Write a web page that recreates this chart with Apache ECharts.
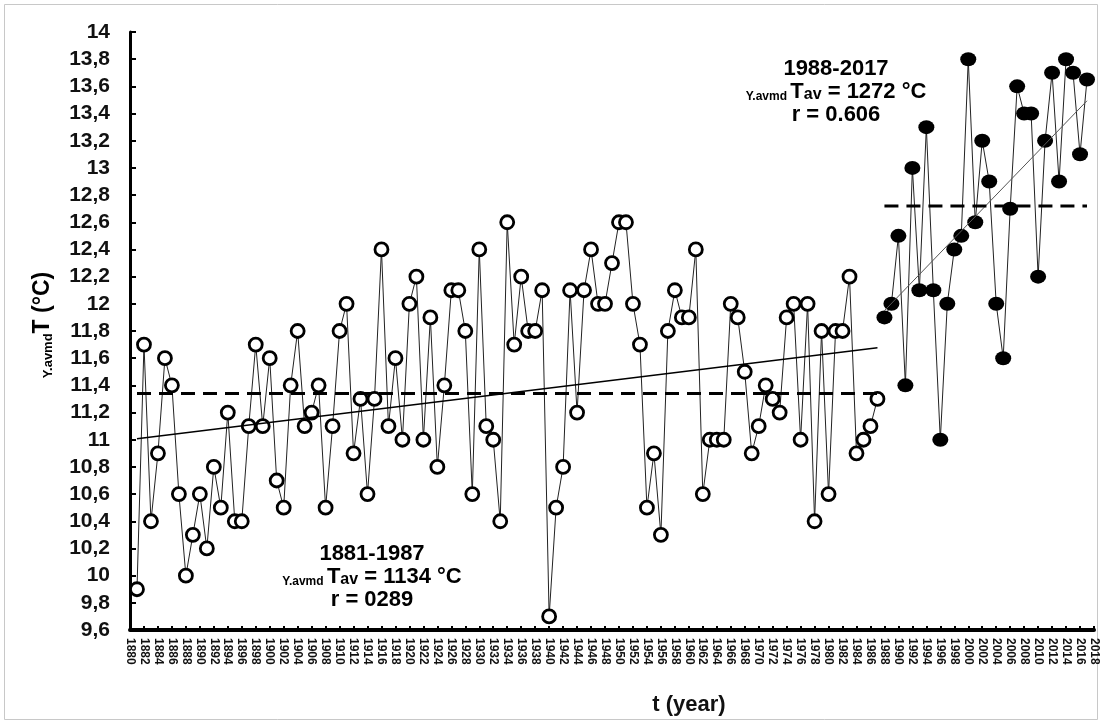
<!DOCTYPE html>
<html>
<head>
<meta charset="utf-8">
<script src="https://cdn.jsdelivr.net/npm/echarts/dist/echarts.min.js"></script>
<style>
  html, body { margin: 0; padding: 0; background: #fff; }
  #chart { width: 1102px; height: 724px; }
</style>
</head>
<body>
<div id="chart"></div>
<script>
// Mean annual air temperature, two periods
const startEarly = 1881;   // first year of the early period
const startLate = 1988;    // first year of the late period

const tempEarly = [
  9.9, 11.7, 10.4, 10.9, 11.6, 11.4, 10.6, 10.0, 10.3, 10.6,
  10.2, 10.8, 10.5, 11.2, 10.4, 10.4, 11.1, 11.7, 11.1, 11.6,
  10.7, 10.5, 11.4, 11.8, 11.1, 11.2, 11.4, 10.5, 11.1, 11.8,
  12.0, 10.9, 11.3, 10.6, 11.3, 12.4, 11.1, 11.6, 11.0, 12.0,
  12.2, 11.0, 11.9, 10.8, 11.4, 12.1, 12.1, 11.8, 10.6, 12.4,
  11.1, 11.0, 10.4, 12.6, 11.7, 12.2, 11.8, 11.8, 12.1, 9.7,
  10.5, 10.8, 12.1, 11.2, 12.1, 12.4, 12.0, 12.0, 12.3, 12.6,
  12.6, 12.0, 11.7, 10.5, 10.9, 10.3, 11.8, 12.1, 11.9, 11.9,
  12.4, 10.6, 11.0, 11.0, 11.0, 12.0, 11.9, 11.5, 10.9, 11.1,
  11.4, 11.3, 11.2, 11.9, 12.0, 11.0, 12.0, 10.4, 11.8, 10.6,
  11.8, 11.8, 12.2, 10.9, 11.0, 11.1, 11.3
];

const tempLate = [
  11.9, 12.0, 12.5, 11.4, 13.0, 12.1, 13.3, 12.1, 11.0, 12.0,
  12.4, 12.5, 13.8, 12.6, 13.2, 12.9, 12.0, 11.6, 12.7, 13.6,
  13.4, 13.4, 12.2, 13.2, 13.7, 12.9, 13.8, 13.7, 13.1, 13.65
];

// Period averages (as stated in the annotations)
const meanEarly = 11.34;
const meanLate = 12.72;

// Annotation texts
const labelEarly = ['1881-1987', '1134 °C', 'r = 0289'];
const labelLate = ['1988-2017', '1272 °C', 'r = 0.606'];

// Axis ranges
const xMin = 1880, xMax = 2018, xStep = 2;
const yMin = 9.6, yMax = 14, yStep = 0.2;

const FONT = "'Liberation Sans', Arial, sans-serif";

const early = tempEarly.map((v, i) => [startEarly + i, v]);
const late = tempLate.map((v, i) => [startLate + i, v]);

// least-squares straight line through a set of points
function linFit(pts) {
  const n = pts.length;
  let mx = 0, my = 0;
  pts.forEach(p => { mx += p[0]; my += p[1]; });
  mx /= n; my /= n;
  let sxy = 0, sxx = 0;
  pts.forEach(p => { sxy += (p[0] - mx) * (p[1] - my); sxx += (p[0] - mx) ** 2; });
  const b = sxy / sxx, a = my - b * mx;
  const x0 = pts[0][0], x1 = pts[n - 1][0];
  return [[x0, a + b * x0], [x1, a + b * x1]];
}

const firstLast = pts => [pts[0][0], pts[pts.length - 1][0]];
const [e0, e1] = firstLast(early);
const [l0, l1] = firstLast(late);

const chart = echarts.init(document.getElementById('chart'), null, { renderer: 'canvas' });

const richAnn = {
  h: { fontFamily: FONT, fontSize: 22, fontWeight: 'bold', color: '#111', lineHeight: 23, verticalAlign: 'bottom' },
  s: { fontFamily: FONT, fontSize: 12, fontWeight: 'bold', color: '#111', lineHeight: 20, verticalAlign: 'bottom' },
  t: { fontFamily: FONT, fontSize: 16, fontWeight: 'bold', color: '#111', lineHeight: 19, verticalAlign: 'bottom' }
};

function annText(lbl) {
  return '{h|' + lbl[0] + '}\n{s|Y.avmd }{h|T}{t|av}{h| = ' + lbl[1] + '}\n{h|' + lbl[2] + '}';
}

chart.setOption({
  animation: false,
  backgroundColor: '#fff',
  grid: { left: 130, right: 8, top: 32, bottom: 94, containLabel: false },
  xAxis: {
    type: 'value',
    min: xMin, max: xMax, interval: xStep,
    axisLine: { show: true, lineStyle: { color: '#000', width: 4 } },
    axisTick: { show: true, inside: true, length: 4, lineStyle: { color: '#000', width: 2 } },
    splitLine: { show: false },
    axisLabel: {
      rotate: -90, margin: 8, fontFamily: FONT, fontSize: 12, fontWeight: 'bold', color: '#111',
      formatter: v => String(v), showMinLabel: true, showMaxLabel: true
    }
  },
  yAxis: {
    type: 'value',
    min: yMin, max: yMax, interval: yStep,
    axisLine: { show: true, lineStyle: { color: '#000', width: 3 } },
    axisTick: { show: true, inside: true, length: 6, lineStyle: { color: '#000', width: 2 } },
    splitLine: { show: false },
    axisLabel: {
      margin: 20, fontFamily: FONT, fontSize: 21, fontWeight: 'bold', color: '#111',
      formatter: v => {
        const r = Math.round(v * 10) / 10;
        return Number.isInteger(r) ? String(r) : r.toFixed(1).replace('.', ',');
      }
    }
  },
  series: [
    {
      name: 'early', type: 'line', data: early, z: 3,
      symbol: 'circle', symbolSize: [13, 13],
      itemStyle: { color: '#fff', borderColor: '#000', borderWidth: 2.8 },
      lineStyle: { color: '#222', width: 1 }
    },
    {
      name: 'late', type: 'line', data: late, z: 3,
      symbol: 'circle', symbolSize: [16, 14],
      itemStyle: { color: '#000', borderColor: '#000', borderWidth: 0 },
      lineStyle: { color: '#222', width: 1 }
    },
    {
      name: 'trendEarly', type: 'line', data: linFit(early), z: 4,
      symbol: 'none', lineStyle: { color: '#000', width: 1.5 }, silent: true
    },
    {
      name: 'trendLate', type: 'line', data: linFit(late), z: 4,
      symbol: 'none', lineStyle: { color: '#555', width: 1 }, silent: true
    },
    {
      name: 'meanEarly', type: 'line', data: [[e0, meanEarly], [e1, meanEarly]], z: 4,
      symbol: 'none', lineStyle: { color: '#000', width: 3, type: [14, 8] }, silent: true
    },
    {
      name: 'meanLate', type: 'line', data: [[l0, meanLate], [l1, meanLate]], z: 4,
      symbol: 'none', lineStyle: { color: '#000', width: 3, type: [14, 8] }, silent: true
    }
  ],
  graphic: [
    {
      type: 'rect', silent: true, z: 0,
      shape: { x: 4.5, y: 4.5, width: 1093, height: 715 },
      style: { fill: 'none', stroke: '#c8c8c8', lineWidth: 1 }
    },
    {
      type: 'text', x: 42, y: 325, rotation: Math.PI / 2, z: 10,
      style: {
        text: '{s|Y.avmd}{m|T (°C)}', align: 'center', verticalAlign: 'middle',
        rich: {
          s: { fontFamily: FONT, fontSize: 13, fontWeight: 'bold', color: '#111', verticalAlign: 'bottom', lineHeight: 22 },
          m: { fontFamily: FONT, fontSize: 23, fontWeight: 'bold', color: '#111', verticalAlign: 'bottom', lineHeight: 25 }
        }
      }
    },
    {
      type: 'text', x: 689, y: 705, z: 10,
      style: { text: 't (year)', fontFamily: FONT, fontSize: 22, fontWeight: 'bold', fill: '#111', align: 'center', verticalAlign: 'middle' }
    },
    {
      type: 'text', x: 372, y: 576, z: 10,
      style: { text: annText(labelEarly), align: 'center', verticalAlign: 'middle', rich: richAnn }
    },
    {
      type: 'text', x: 836, y: 91, z: 10,
      style: { text: annText(labelLate), align: 'center', verticalAlign: 'middle', rich: richAnn }
    }
  ]
});
</script>
</body>
</html>
